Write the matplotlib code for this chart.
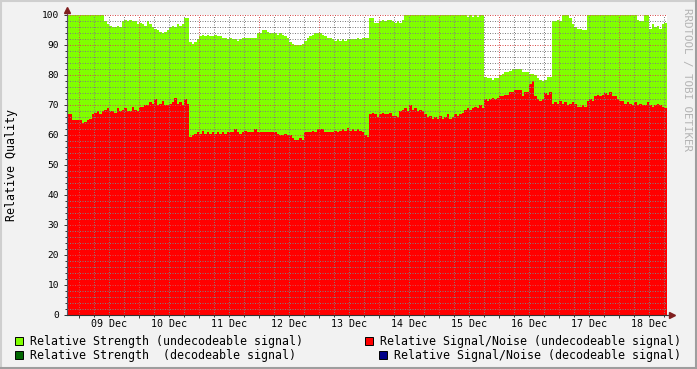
import matplotlib
matplotlib.use("Agg")
import numpy as np
import matplotlib.pyplot as plt
import matplotlib.dates as mdates
from matplotlib.ticker import MultipleLocator, NullFormatter
from matplotlib.patches import Rectangle
from matplotlib.lines import Line2D
from datetime import datetime, timedelta

plt.rcParams['font.family'] = ['DejaVu Sans Mono']

# hourly samples, first one at 08 Dec 19:00
start = datetime(2010, 12, 8, 19, 0)

strength = [
    100, 100, 100, 100, 100, 100, 100, 100, 100, 100, 100, 100, 100, 100, 100, 98, 97, 96.5, 96, 96, 96.5, 96, 98, 98.5,
    98, 98.5, 98, 98, 97, 97.5, 97, 96.5, 98, 97, 96, 95.5, 95, 94.5, 94, 94.5, 95, 96, 96.5, 96, 97, 96.5, 97, 99,
    99, 91, 90.5, 91, 92, 93, 93.5, 93, 93.5, 93, 93, 93.5, 93, 93, 92.5, 92.5, 92, 92.5, 92, 92, 91.5, 92, 92.5, 92.5,
    92.5, 92.5, 92.5, 92.5, 94, 94, 95, 95, 94.5, 94, 94, 94, 93.5, 94, 93.5, 93, 92.5, 91, 90.5, 90, 90, 90, 90.5, 91.5,
    92.5, 93, 93.5, 94, 94, 94, 93.5, 93, 92.5, 92.5, 92, 91.5, 92, 91.5, 92, 91.5, 92, 92, 92, 92, 92.5, 92, 92.5, 92.5,
    92.5, 99, 99, 97.5, 97.5, 98, 98.5, 98, 98.5, 98.5, 98, 97.5, 98, 97.5, 98.5, 100, 100, 100, 100, 100, 100, 100, 100, 100,
    100, 100, 100, 100, 100, 100, 100, 100, 100, 100, 100, 100, 100, 100, 100, 100, 99.5, 100, 99.5, 100, 99.5, 100, 100, 79.5,
    79, 79, 78.5, 79, 79, 80, 80.5, 81, 81, 81.5, 82, 82, 82, 82, 81, 81, 81, 80.5, 80.5, 80, 79, 78.5, 78, 78.5,
    79.5, 79.5, 98, 98, 98.5, 98, 100, 100, 100, 99, 97, 96, 95.5, 95.5, 95, 95, 100, 100, 100, 100, 100, 100, 100, 100,
    100, 100, 100, 100, 100, 100, 100, 100, 100, 100, 100, 100, 98.5, 98, 98, 100, 100, 95.5, 97, 96, 96.5, 95.5, 97, 97.5,
]

signal_noise = [
    67, 67, 65, 65, 65, 65, 64, 64.5, 65, 65.5, 67, 67.5, 68, 67, 68, 68.5, 69, 68, 68, 67.5, 69, 68, 68.5, 69,
    68, 68, 69.5, 68.5, 68, 69.5, 69.5, 70, 70, 71, 70.5, 72, 70, 70.5, 71.5, 70, 70, 70.5, 71, 72.5, 70.5, 71, 70, 72,
    70.5, 59.5, 60, 60.5, 61, 60.5, 61.5, 60.5, 61, 60.5, 61, 60.5, 61, 60.5, 61, 60.5, 61, 61, 61, 62, 61, 60.5, 61, 61.5,
    61, 61, 61, 62, 61, 61, 61, 61, 61, 61, 61, 61, 60.5, 60, 60, 60.5, 60, 60, 59, 58.5, 58.5, 59, 58.5, 61,
    61, 61, 61.5, 61, 62, 62, 62, 61, 61, 61, 61, 61.5, 61, 61.5, 62, 61.5, 62.5, 61.5, 62, 61.5, 62, 61.5, 61, 60,
    59.5, 67, 67.5, 67, 66, 67, 67.5, 67, 67, 67.5, 66.5, 66.5, 66, 68, 68.5, 69, 68, 70, 68.5, 69, 68, 68.5, 68, 67,
    66, 66.5, 65.5, 66, 65.5, 66.5, 65.5, 66, 67, 65.5, 66, 67, 66.5, 67, 67.5, 68.5, 69, 68.5, 69, 69.5, 69, 70, 69, 72,
    71.5, 72, 72.5, 72, 72.5, 73, 73, 73.5, 73.5, 74.5, 74.5, 75, 75, 75, 73, 74.5, 74.5, 77, 78, 73, 72, 71.5, 72, 74,
    73.5, 74.5, 70.5, 71, 70.5, 71.5, 70.5, 71, 70, 70.5, 71, 70.5, 69.5, 69.5, 70, 69.5, 71.5, 72, 71.5, 73, 73.5, 73, 73.5, 74,
    73.5, 74.5, 73, 73, 72, 71.5, 71.5, 70.5, 71, 70.5, 70, 71, 70, 70.5, 70, 70, 71, 70, 69.5, 70, 70.5, 70, 69.5, 69,
]

day_labels = ["09 Dec", "10 Dec", "11 Dec", "12 Dec", "13 Dec",
              "14 Dec", "15 Dec", "16 Dec", "17 Dec", "18 Dec"]

legend_left = ["Relative Strength (undecodeable signal)",
               "Relative Strength  (decodeable signal)"]
legend_right = ["Relative Signal/Noise (undecodeable signal)",
                "Relative Signal/Noise (decodeable signal)"]
colors_left = ["#80FF00", "#006600"]
colors_right = ["#FF0000", "#000088"]

W, H = 697, 369
back = "#F2F2F2"
grid_col = (0.5, 0.5, 0.5, 0.3)
mgrid_col = (0.85, 0.3, 0.3, 0.4)
arrow_col = "#801F1F"

fig = plt.figure(figsize=(W / 100, H / 100), dpi=100, facecolor=back)
ax = fig.add_axes([67 / W, 54 / H, 600 / W, 300 / H])
ax.set_facecolor("white")

times = [start + timedelta(hours=h) for h in range(len(strength) + 1)]
t = mdates.date2num(times)
s_ext = strength + [strength[-1]]
n_ext = signal_noise + [signal_noise[-1]]

ax.fill_between(t, 0, s_ext, step="post", color=colors_left[0], linewidth=0, antialiased=False, zorder=1)
ax.fill_between(t, 0, n_ext, step="post", color=colors_right[0], linewidth=0, antialiased=False, zorder=1.1)

x0 = start + timedelta(minutes=12)
x1 = x0 + timedelta(days=10)
ax.set_xlim(x0, x1)
ax.set_ylim(0, 100)

ax.yaxis.set_major_locator(MultipleLocator(10))
ax.yaxis.set_minor_locator(MultipleLocator(2))
ax.xaxis.set_major_locator(mdates.DayLocator())
ax.xaxis.set_minor_locator(mdates.HourLocator(byhour=[0, 6, 12, 18]))
ax.xaxis.set_major_formatter(NullFormatter())

ax.set_axisbelow(False)
dots = (0, (1, 1.5))
ax.grid(which="minor", color=grid_col, linestyle=dots, linewidth=0.72)
ax.grid(which="major", color=mgrid_col, linestyle=dots, linewidth=0.72)

ax.tick_params(axis="y", which="major", length=2.2, width=0.7, color="#333333",
               labelsize=6.8, pad=3.5)
ax.tick_params(axis="y", which="minor", length=1.2, width=0.7, color="#333333")
ax.tick_params(axis="x", which="major", length=2.2, width=0.7, color="#333333")
ax.tick_params(axis="x", which="minor", length=1.2, width=0.7, color="#333333")

for side in ["top", "right"]:
    ax.spines[side].set_visible(False)
ax.spines["left"].set_color("#555566")
ax.spines["bottom"].set_color("#333333")
ax.spines["left"].set_linewidth(0.8)
ax.spines["bottom"].set_linewidth(0.8)

# axis arrows
ax.plot([0, 0], [1, 1.012], transform=ax.transAxes, color="#555566", lw=0.8, clip_on=False)
ax.plot([1, 1.006], [0, 0], transform=ax.transAxes, color="#333333", lw=0.8, clip_on=False)
ax.plot([0], [1.018], marker="^", ms=4.5, color=arrow_col, transform=ax.transAxes, clip_on=False)
ax.plot([1.008], [0], marker=">", ms=4.5, color=arrow_col, transform=ax.transAxes, clip_on=False)

# day labels centred at noon
noon0 = datetime(2010, 12, 9, 12, 0)
for i, lab in enumerate(day_labels):
    ax.text(noon0 + timedelta(days=i), -0.03, lab, transform=ax.get_xaxis_transform(),
            ha="center", va="center", fontsize=7.2)

fig.text(12 / W, 1 - 165 / H, "Relative Quality", rotation=90, ha="center", va="center", fontsize=8.4)
fig.text(687 / W, 1 - 80 / H, "RRDTOOL / TOBI OETIKER", rotation=270, ha="center", va="center",
         fontsize=7.8, color="#B4B4B4")

# legend
rows_y = [341, 355]
for i in range(2):
    y = rows_y[i]
    fig.add_artist(Rectangle((15 / W, 1 - (y + 4) / H), 8 / W, 8 / H, transform=fig.transFigure,
                             facecolor=colors_left[i], edgecolor="black", linewidth=0.7))
    fig.text(30 / W, 1 - y / H, legend_left[i], ha="left", va="center", fontsize=8.4)
right_box = [365, 379]
right_text = [380, 394]
for i in range(2):
    y = rows_y[i]
    fig.add_artist(Rectangle((right_box[i] / W, 1 - (y + 4) / H), 8 / W, 8 / H, transform=fig.transFigure,
                             facecolor=colors_right[i], edgecolor="black", linewidth=0.7))
    fig.text(right_text[i] / W, 1 - y / H, legend_right[i], ha="left", va="center", fontsize=8.4)

# shaded border
fig.add_artist(Line2D([0, 1], [1 - 1 / H, 1 - 1 / H], transform=fig.transFigure, color="#CFCFCF", lw=1.5))
fig.add_artist(Line2D([1 / W, 1 / W], [0, 1], transform=fig.transFigure, color="#CFCFCF", lw=1.5))
fig.add_artist(Line2D([0, 1], [1 / H, 1 / H], transform=fig.transFigure, color="#9E9E9E", lw=1.5))
fig.add_artist(Line2D([1 - 1 / W, 1 - 1 / W], [0, 1], transform=fig.transFigure, color="#9E9E9E", lw=1.5))

fig.savefig("out.png", dpi=100, facecolor=back)
